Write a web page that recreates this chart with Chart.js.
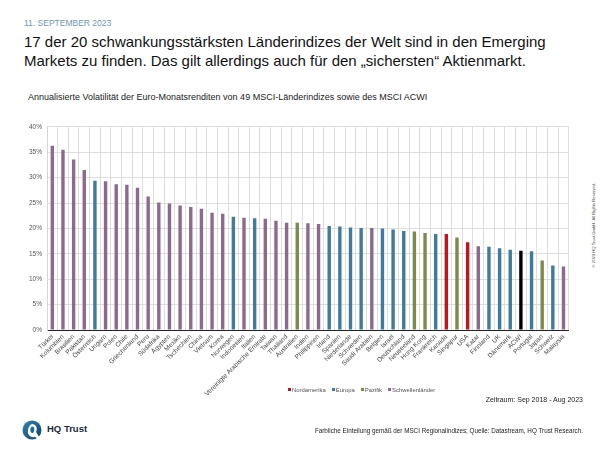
<!DOCTYPE html>
<html>
<head>
<meta charset="utf-8">
<script src="https://cdn.jsdelivr.net/npm/chart.js@4.4.0/dist/chart.umd.min.js"></script>
<style>
  html, body { margin: 0; padding: 0; background: #fff; }
  #page { position: relative; width: 600px; height: 450px; overflow: hidden; font-family: 'Liberation Sans', Arial, sans-serif; color: #111; }
  .abs { position: absolute; white-space: nowrap; }
  #date { left: 24px; top: 18px; font-size: 8.5px; color: #6f95b3; }
  #title { left: 24px; top: 32px; font-size: 15px; line-height: 19px; color: #111; }
  #sub { left: 28px; top: 92px; font-size: 9px; color: #222; }
  #chartBox { position: absolute; left: 20px; top: 118px; width: 552px; height: 282px; }
  #legend { left: 288px; top: 387px; font-size: 5.9px; color: #555; }
  #legend span.item { margin-right: 6px; }
  #legend i { display: inline-block; width: 3px; height: 3px; margin-right: 1px; vertical-align: 1px; }
  #period { right: 17px; top: 396px; font-size: 7px; color: #222; }
  #source { right: 17px; top: 427px; font-size: 6.3px; color: #222; }
  #copy { left: 593px; top: 225px; font-size: 4.2px; color: #444; transform: translate(-50%, -50%) rotate(-90deg); transform-origin: center; }
  #logo { left: 22px; top: 420px; }
  #logoText { left: 47px; top: 423px; font-size: 9.5px; font-weight: bold; color: #1a2a3a; }
</style>
</head>
<body>
<div id="page">
  <div id="date" class="abs">11. SEPTEMBER 2023</div>
  <div id="title" class="abs">17 der 20 schwankungsstärksten Länderindizes der Welt sind in den Emerging<br>Markets zu finden. Das gilt allerdings auch für den „sichersten“ Aktienmarkt.</div>
  <div id="sub" class="abs">Annualisierte Volatilität der Euro-Monatsrenditen von 49 MSCI-Länderindizes sowie des MSCI ACWI</div>
  <div id="chartBox"><canvas id="chart"></canvas></div>
  <div id="legend" class="abs"></div>
  <div id="period" class="abs">Zeitraum: Sep 2018 - Aug 2023</div>
  <div id="source" class="abs">Farbliche Einteilung gemäß der MSCI Regionalindizes; Quelle: Datastream, HQ Trust Research.</div>
  <div id="copy" class="abs">© 2023 HQ Trust GmbH. All Rights Reserved.</div>
  <svg id="logo" class="abs" width="22" height="22" viewBox="0 0 22 22">
    <defs>
      <linearGradient id="lg" x1="0" y1="0" x2="1" y2="1">
        <stop offset="0" stop-color="#2f86b5"/>
        <stop offset="1" stop-color="#0f3f66"/>
      </linearGradient>
    </defs>
    <circle cx="10" cy="10" r="9.5" fill="url(#lg)"/>
    <path d="M10 4 C14 4 16 8 14 12 L19 20 L13 17 C9 18 5 15 6 10 C6.5 6.5 8 4.5 10 4 Z" fill="#fff"/>
    <path d="M10.5 6.5 C12.5 7 13 10 11.5 12.5 C10 14 8 12 8.3 9.5 C8.5 7.5 9.3 6.5 10.5 6.5 Z" fill="#1d6a97"/>
  </svg>
  <div id="logoText" class="abs">HQ Trust</div>
</div>

<script>
// Kategorien (Länder) und annualisierte Volatilität in %
const countries = [
  'Türkei', 'Kolumbien', 'Brasilien', 'Pakistan', 'Österreich', 'Ungarn', 'Polen', 'Chile',
  'Griechenland', 'Peru', 'Südafrika', 'Ägypten', 'Mexiko', 'Tschechien', 'China', 'Vietnam',
  'Korea', 'Norwegen', 'Indonesien', 'Italien', 'Vereinigte Arabische Emirate', 'Taiwan',
  'Thailand', 'Australien', 'Indien', 'Philippinen', 'Irland', 'Spanien', 'Niederlande',
  'Schweden', 'Saudi Arabien', 'Belgien', 'Israel', 'Deutschland', 'Neuseeland', 'Hong Kong',
  'Frankreich', 'Kanada', 'Singapur', 'USA', 'Katar', 'Finnland', 'UK', 'Dänemark', 'ACWI',
  'Portugal', 'Japan', 'Schweiz', 'Malaysia'
];
const volatility = [
  36.3, 35.5, 33.6, 31.5, 29.4, 29.3, 28.7, 28.6,
  28.0, 26.3, 25.1, 24.9, 24.5, 24.2, 23.9, 23.1,
  22.9, 22.3, 22.1, 22.0, 21.9, 21.5,
  21.1, 21.1, 21.0, 20.9, 20.5, 20.4, 20.2,
  20.1, 20.1, 20.0, 19.8, 19.5, 19.4, 19.1,
  18.9, 18.9, 18.2, 17.3, 16.5, 16.4, 16.1, 15.8, 15.6,
  15.5, 13.7, 12.7, 12.5
];
// Regionszuordnung je Land (EM = Schwellenländer, EU = Europa, PA = Pazifik, NA = Nordamerika, W = Welt)
const regions = [
  'EM', 'EM', 'EM', 'EM', 'EU', 'EM', 'EM', 'EM',
  'EM', 'EM', 'EM', 'EM', 'EM', 'EM', 'EM', 'EM',
  'EM', 'EU', 'EM', 'EU', 'EM', 'EM',
  'EM', 'PA', 'EM', 'EM', 'EU', 'EU', 'EU',
  'EU', 'EM', 'EU', 'EU', 'EU', 'PA', 'PA',
  'EU', 'NA', 'PA', 'NA', 'EM', 'EU', 'EU', 'EU', 'W',
  'EU', 'PA', 'EU', 'EM'
];
const yTicks = [0, 5, 10, 15, 20, 25, 30, 35, 40];

const legendNames = ['Nordamerika', 'Europa', 'Pazifik', 'Schwellenländer'];
const legendKeys = ['NA', 'EU', 'PA', 'EM'];
const regionColors = { NA: '#c0141e', EU: '#3f7b9c', PA: '#7b8b4c', EM: '#8c6a8d', W: '#000000' };

// Legende als HTML
document.getElementById('legend').innerHTML = legendKeys.map((k, i) =>
  `<span class="item"><i style="background:${regionColors[k]}"></i>${legendNames[i]}</span>`
).join('');

const gridColor = '#d6d6d6';
const tickFont = { family: "'Liberation Sans', Arial, sans-serif", size: 6.5 };

new Chart(document.getElementById('chart'), {
  type: 'bar',
  data: {
    labels: countries,
    datasets: [{
      data: volatility,
      backgroundColor: regions.map(r => regionColors[r]),
      barPercentage: 0.32,
      categoryPercentage: 1
    }]
  },
  options: {
    responsive: true,
    maintainAspectRatio: false,
    animation: false,
    layout: { padding: { top: 6, right: 0, bottom: 0, left: 0 } },
    plugins: { legend: { display: false }, tooltip: { enabled: false } },
    scales: {
      x: {
        grid: { color: gridColor, lineWidth: 0.8, drawTicks: false },
        border: { color: '#222', width: 1 },
        ticks: { autoSkip: false, minRotation: 45, maxRotation: 45, font: tickFont, color: '#444', padding: 3 },
        afterFit: s => { s.height = 70; }
      },
      y: {
        min: 0,
        max: 40,
        afterBuildTicks: s => { s.ticks = yTicks.map(v => ({ value: v })); },
        grid: { color: gridColor, lineWidth: 0.8, drawTicks: false },
        border: { color: gridColor },
        ticks: { font: tickFont, color: '#555', padding: 5, callback: v => v + '%' },
        afterFit: s => { s.width = 27; }
      }
    }
  }
});
</script>
</body>
</html>
